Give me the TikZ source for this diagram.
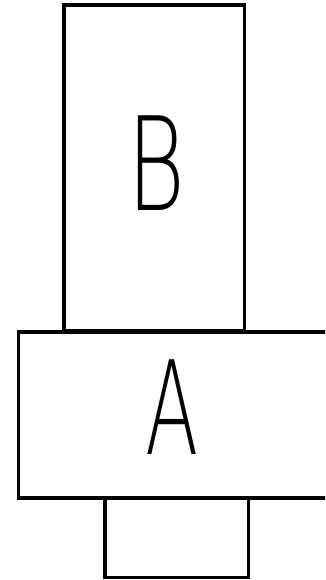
\documentclass[tikz,border=0pt]{standalone}
\usepackage{fontspec}
\usepackage{graphicx}
\newfontfamily\letterfont{DejaVu Sans ExtraLight}
\tikzset{
  part/.style={draw, line width=3.5pt, inner sep=0pt, outer sep=0pt},
  letter/.style={inner sep=0pt, font=\letterfont\fontsize{130}{130}\selectfont}
}
\begin{document}
\begin{tikzpicture}[x=1pt,y=-1pt]
        \useasboundingbox (0,0) rectangle (325,580);
        \clip (0,0) rectangle (325,580);
        \node[part, minimum width=180.5pt, minimum height=326pt] (B) at (154.25,168) {};
        \node[part, minimum width=320pt, minimum height=166pt] (A) at (178.5,415) {};
        \node[part, minimum width=143.5pt, minimum height=79.5pt] (stem) at (176.75,537.75) {};
        \node[letter] (labelB) at (156,163) {\scalebox{0.68}[1]{B}};
        \node[letter] (labelA) at (172,407) {\scalebox{0.6}[1]{A}};
    \end{tikzpicture}
\end{document}
